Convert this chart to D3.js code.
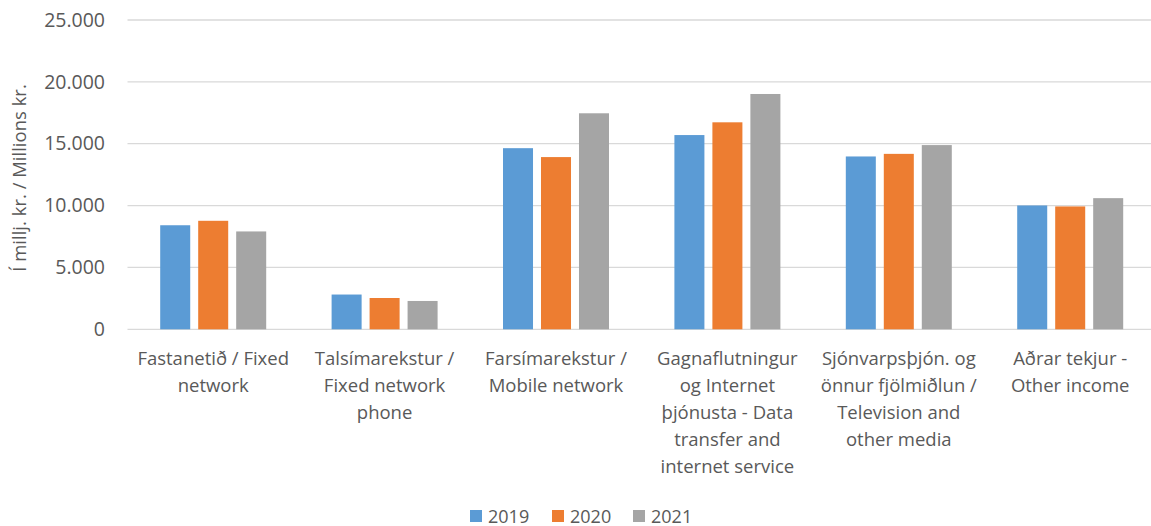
<!DOCTYPE html>
<html>
<head>
<meta charset="utf-8">
<script src="https://cdn.jsdelivr.net/npm/d3@7"></script>
<style>
  html, body { margin: 0; padding: 0; background: #fff; }
  svg { display: block; }
  text { font-family: "Open Sans", "Noto Sans", sans-serif; fill: #595959; }
</style>
</head>
<body>
<svg id="chart" width="1151" height="526"></svg>
<script>
// Revenue by service line, millions ISK
const categories = [
  ["Fastanetið / Fixed", "network"],
  ["Talsímarekstur /", "Fixed network", "phone"],
  ["Farsímarekstur /", "Mobile network"],
  ["Gagnaflutningur", "og Internet", "þjónusta - Data", "transfer and", "internet service"],
  ["Sjónvarpsþjón. og", "önnur fjölmiðlun /", "Television and", "other media"],
  ["Aðrar tekjur -", "Other income"]
];
const years = ["2019", "2020", "2021"];
const values2019 = [8410, 2810, 14640, 15700, 13970, 10010];
const values2020 = [8770, 2530, 13920, 16730, 14180, 9930];
const values2021 = [7910, 2290, 17460, 19020, 14890, 10600];
const yTicks = [0, 5000, 10000, 15000, 20000, 25000];
const colors = ["#5B9BD5", "#ED7D31", "#A5A5A5"];
const yTitle = "Í millj. kr. / Millions kr.";

const series = [values2019, values2020, values2021];
const catKeys = categories.map(c => c.join(" "));

const svg = d3.select("#chart");
const plotLeft = 127.5, step = 171.4;
const plotTop = 20, plotBottom = 329.3;

const x0 = d3.scaleBand()
  .domain(catKeys)
  .range([plotLeft, plotLeft + step * catKeys.length])
  .paddingInner(0.3816)
  .paddingOuter(0.1908);
const x1 = d3.scaleBand()
  .domain(years)
  .range([0, x0.bandwidth()])
  .paddingInner(0.21)
  .paddingOuter(0);
const y = d3.scaleLinear().domain([0, 25000]).range([plotBottom, plotTop]);

const fmt = v => d3.format(",")(v).replace(/,/g, ".");

// Gridlines
svg.append("g")
  .selectAll("line")
  .data(yTicks)
  .join("line")
  .attr("x1", plotLeft).attr("x2", 1151)
  .attr("y1", d => y(d)).attr("y2", d => y(d))
  .attr("stroke", "#D9D9D9").attr("stroke-width", 1.3);

// Y axis tick labels
const yAxis = d3.axisLeft(y).tickValues(yTicks).tickFormat(fmt).tickSize(0).tickPadding(0);
const gy = svg.append("g").attr("transform", `translate(${105},0)`).call(yAxis);
gy.select(".domain").remove();
gy.selectAll("text")
  .attr("font-size", 19.5)
  .attr("fill", "#595959")
  .style("font-family", '"Open Sans", sans-serif');

// Bars
const groups = svg.append("g")
  .selectAll("g")
  .data(catKeys)
  .join("g")
  .attr("transform", d => `translate(${x0(d)},0)`);
groups.selectAll("rect")
  .data((d, i) => years.map((yr, k) => ({ yr, v: series[k][i], k })))
  .join("rect")
  .attr("x", d => x1(d.yr))
  .attr("width", x1.bandwidth())
  .attr("y", d => y(d.v))
  .attr("height", d => y(0) - y(d.v))
  .attr("fill", d => colors[d.k]);

// Category labels
const catLabels = svg.append("g")
  .selectAll("text")
  .data(categories)
  .join("text")
  .attr("text-anchor", "middle")
  .attr("font-size", 18.5)
  .attr("x", (d, i) => x0(catKeys[i]) + x0.bandwidth() / 2)
  .attr("y", 365);
catLabels.selectAll("tspan")
  .data(d => d)
  .join("tspan")
  .attr("x", function () { return d3.select(this.parentNode).attr("x"); })
  .attr("dy", (d, i) => i === 0 ? 0 : 27)
  .text(d => d);

// Y axis title
svg.append("text")
  .attr("transform", `translate(${26},${178}) rotate(-90)`)
  .attr("text-anchor", "middle")
  .attr("font-size", 18.5)
  .text(yTitle);

// Legend
const legendX = [470, 552, 633];
const legend = svg.append("g")
  .selectAll("g")
  .data(years)
  .join("g")
  .attr("transform", (d, i) => `translate(${legendX[i]},${510})`);
legend.append("rect")
  .attr("width", 12).attr("height", 12)
  .attr("fill", (d, i) => colors[i]);
legend.append("text")
  .attr("x", 18).attr("y", 12.5)
  .attr("font-size", 18)
  .text(d => d);
</script>
</body>
</html>
